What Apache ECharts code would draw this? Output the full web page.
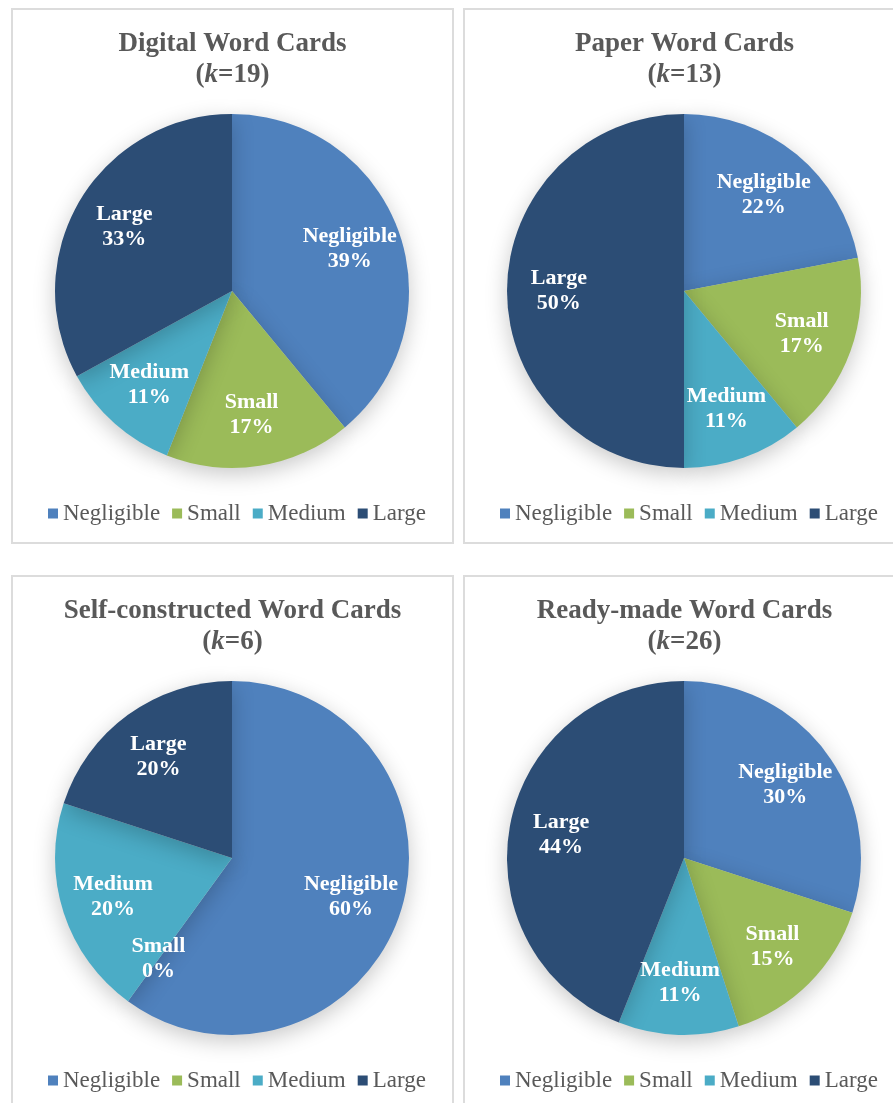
<!DOCTYPE html>
<html>
<head>
<meta charset="utf-8">
<script src="https://cdn.jsdelivr.net/npm/echarts@6/dist/echarts.min.js"></script>
<style>
  html, body { margin: 0; padding: 0; background: #ffffff; width: 893px; height: 1103px; overflow: hidden; }
  .panel { position: absolute; width: 443px; height: 536px; border: 2px solid #dcdcdc; box-sizing: border-box; background: #fff; }
</style>
</head>
<body>
<div id="p0" class="panel" style="left:11px; top:8px;"></div>
<div id="p1" class="panel" style="left:463px; top:8px;"></div>
<div id="p2" class="panel" style="left:11px; top:575px;"></div>
<div id="p3" class="panel" style="left:463px; top:575px;"></div>
<script>
// ---- data ----
const categories = ['Negligible', 'Small', 'Medium', 'Large'];
const colors = ['#4F81BD', '#9BBB59', '#4BACC6', '#2C4D75'];
const chartTitles = ['Digital Word Cards', 'Paper Word Cards', 'Self-constructed Word Cards', 'Ready-made Word Cards'];
const kValues = [19, 13, 6, 26];
const digitalValues = [39, 17, 11, 33];
const paperValues = [22, 17, 11, 50];
const selfValues = [60, 0, 20, 20];
const readyValues = [30, 15, 11, 44];
const allValues = [digitalValues, paperValues, selfValues, readyValues];

const FONT = "'Liberation Serif', 'Times New Roman', serif";
const R = 177;

function makeOption(idx) {
  const vals = allValues[idx];
  const data = categories.map((c, i) => ({ name: c, value: vals[i], itemStyle: { color: colors[i] } }));
  const labelData = categories.map((c, i) => ({ name: c, value: vals[i] }));
  return {
    animation: false,
    title: {
      text: '{t|' + chartTitles[idx] + '}\n{t|(}{i|k}{t|=' + kValues[idx] + ')}',
      left: 'center',
      top: 14,
      textStyle: {
        rich: {
          t: { fontFamily: FONT, fontWeight: 'bold', fontSize: 27, color: '#595959', lineHeight: 31 },
          i: { fontFamily: FONT, fontWeight: 'bold', fontStyle: 'italic', fontSize: 27, color: '#595959', lineHeight: 31 }
        }
      }
    },
    legend: {
      top: 487,
      left: 30,
      itemWidth: 10,
      itemHeight: 10,
      itemGap: 12,
      icon: 'rect',
      selectedMode: false,
      textStyle: { fontFamily: FONT, fontSize: 23, color: '#595959', padding: [0, 0, 0, 0] },
      data: categories.map((c, i) => ({ name: c, itemStyle: { color: colors[i] } }))
    },
    series: [
      {
        type: 'pie',
        center: [219, 281],
        radius: [0, R],
        startAngle: 90,
        clockwise: true,
        silent: true,
        label: { show: false },
        labelLine: { show: false },
        itemStyle: {
          borderWidth: 0,
          shadowBlur: 22,
          shadowOffsetY: 6,
          shadowColor: 'rgba(0,0,0,0.22)'
        },
        data: data
      },
      {
        type: 'pie',
        center: [219, 281],
        radius: [R * 0.38, R],
        startAngle: 90,
        clockwise: true,
        silent: true,
        itemStyle: { color: 'rgba(0,0,0,0)' },
        labelLine: { show: false },
        label: {
          show: true,
          position: 'inside',
          formatter: '{b}\n{c}%',
          fontFamily: FONT,
          fontWeight: 'bold',
          fontSize: 22,
          lineHeight: 25,
          color: '#ffffff'
        },
        data: labelData
      }
    ]
  };
}

for (let i = 0; i < 4; i++) {
  const chart = echarts.init(document.getElementById('p' + i), null, { renderer: 'canvas' });
  chart.setOption(makeOption(i));
}
</script>
</body>
</html>
